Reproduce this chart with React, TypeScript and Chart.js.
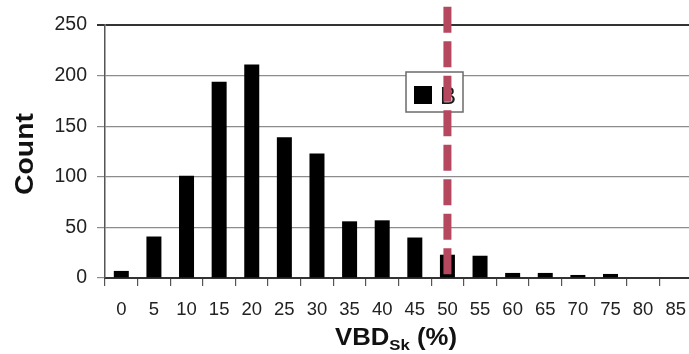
import React, { useEffect, useRef } from "react";
import { Chart, registerables } from "chart.js";

Chart.register(...registerables);

const categories = ["0", "5", "10", "15", "20", "25", "30", "35", "40", "45", "50", "55", "60", "65", "70", "75", "80", "85"];
const counts = [7, 41, 101, 194, 211, 139, 123, 56, 57, 40, 23, 22, 5, 5, 3, 4, 0, 0];
const yTickValues = [0, 50, 100, 150, 200, 250];
const seriesLabel = "B";
const thresholdCategory = "50";
const thresholdTop = 268;
const yTitle = "Count";
const xTitleMain = "VBD";
const xTitleSub = "Sk";
const xTitleTail = " (%)";

const FONT = "'Liberation Sans', Arial, Helvetica, sans-serif";

const overlayPlugin = {
  id: "overlay",
  afterDraw(chart: any) {
    const { ctx, scales } = chart;
    const xs = scales.x;
    const ys = scales.y;
    ctx.save();

    // legend box
    const lx = 406, ly = 72, lw = 57, lh = 40;
    ctx.fillStyle = "#ffffff";
    ctx.fillRect(lx, ly, lw, lh);
    ctx.strokeStyle = "#6b6b6b";
    ctx.lineWidth = 1.5;
    ctx.strokeRect(lx, ly, lw, lh);
    ctx.fillStyle = "#000000";
    ctx.fillRect(lx + 8, ly + 14, 18, 18);
    ctx.font = `24px ${FONT}`;
    ctx.textBaseline = "alphabetic";
    ctx.textAlign = "left";
    ctx.fillStyle = "#1a1a1a";
    ctx.fillText(seriesLabel, lx + 34, ly + 32);

    // threshold dashed line
    const px = xs.getPixelForValue(categories.indexOf(thresholdCategory));
    ctx.strokeStyle = "#b5485f";
    ctx.lineWidth = 8;
    ctx.lineCap = "butt";
    ctx.setLineDash([26, 8.5]);
    ctx.beginPath();
    ctx.moveTo(px, ys.getPixelForValue(thresholdTop));
    ctx.lineTo(px, ys.getPixelForValue(0));
    ctx.stroke();
    ctx.setLineDash([]);

    // y title (rotated)
    ctx.save();
    ctx.translate(25, 154);
    ctx.rotate(-Math.PI / 2);
    ctx.font = `bold 25px ${FONT}`;
    const wy = ctx.measureText(yTitle).width;
    const sy = 82 / wy;
    ctx.scale(sy, 1);
    ctx.fillStyle = "#111";
    ctx.textAlign = "center";
    ctx.textBaseline = "middle";
    ctx.fillText(yTitle, 0, 1);
    ctx.restore();

    // x title with subscript
    ctx.save();
    ctx.fillStyle = "#111";
    ctx.textBaseline = "alphabetic";
    ctx.textAlign = "left";
    const mainFont = `bold 23px ${FONT}`;
    const subFont = `bold 15px ${FONT}`;
    ctx.font = mainFont;
    const w1 = ctx.measureText(xTitleMain).width;
    const w3 = ctx.measureText(xTitleTail).width;
    ctx.font = subFont;
    const w2 = ctx.measureText(xTitleSub).width;
    const total = w1 + w2 + w3;
    const sx = 122 / total;
    ctx.translate(335, 0);
    ctx.scale(sx, 1);
    ctx.font = mainFont;
    ctx.fillText(xTitleMain, 0, 345);
    ctx.font = subFont;
    ctx.fillText(xTitleSub, w1, 350);
    ctx.font = mainFont;
    ctx.fillText(xTitleTail, w1 + w2, 345);
    ctx.restore();

    ctx.restore();
  },
};

export default function App() {
  const canvasRef = useRef<HTMLCanvasElement | null>(null);

  useEffect(() => {
    if (!canvasRef.current) return;
    const chart = new Chart(canvasRef.current, {
      type: "bar",
      data: {
        labels: categories,
        datasets: [
          {
            label: seriesLabel,
            data: counts,
            backgroundColor: "#000000",
            borderWidth: 0,
            barPercentage: 0.46,
            categoryPercentage: 1,
          },
        ],
      },
      options: {
        responsive: false,
        animation: false,
        devicePixelRatio: 1,
        layout: { padding: { top: 25, left: 0, right: 0, bottom: 0 } },
        plugins: {
          legend: { display: false },
          tooltip: { enabled: false },
        },
        scales: {
          x: {
            grid: {
              drawOnChartArea: false,
              offset: true,
              tickLength: 8,
              color: "#555",
              lineWidth: 1.2,
            },
            border: { color: "#333", width: 2 },
            ticks: {
              font: { family: FONT, size: 18.5 },
              color: "#222",
              padding: 13,
              maxRotation: 0,
              autoSkip: false,
            },
            afterFit: (s: any) => {
              s.height = 76;
            },
          },
          y: {
            min: 0,
            max: 250,
            afterBuildTicks: (s: any) => {
              s.ticks = yTickValues.map((v) => ({ value: v }));
            },
            ticks: {
              font: { family: FONT, size: 19.5 },
              color: "#222",
              padding: 10,
            },
            grid: {
              color: (c: any) => (c.tick && c.tick.value === 250 ? "#333" : "#8c8c8c"),
              lineWidth: (c: any) => (c.tick && c.tick.value === 250 ? 2 : 1.2),
              tickLength: 8,
            },
            border: { color: "#555", width: 1.5 },
            afterFit: (s: any) => {
              s.width = 105;
            },
          },
        },
      },
      plugins: [overlayPlugin],
    });
    return () => chart.destroy();
  }, []);

  return (
    <div
      style={{
        position: "fixed",
        left: 0,
        top: 0,
        width: 689,
        height: 354,
        overflow: "hidden",
        background: "#fff",
      }}
    >
      <canvas ref={canvasRef} width={699} height={354} style={{ display: "block" }} />
    </div>
  );
}
